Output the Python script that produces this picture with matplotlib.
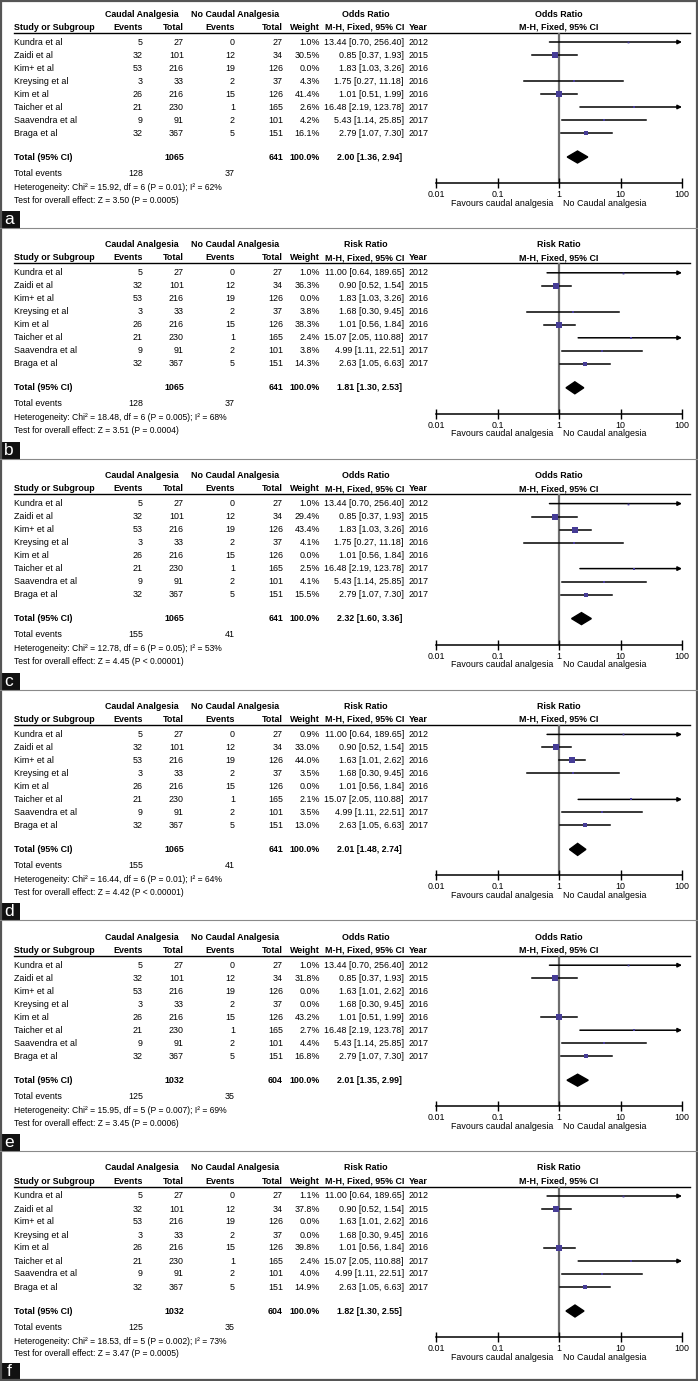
import matplotlib
matplotlib.use("Agg")
import matplotlib.pyplot as plt
from matplotlib.patches import Rectangle, Polygon
from matplotlib.ticker import NullLocator

plt.rcParams["font.family"] = ["Liberation Sans", "DejaVu Sans"]

W, H = 698, 1381

# shared study table
studies = ["Kundra et al", "Zaidi et al", "Kim+ et al", "Kreysing et al",
           "Kim et al", "Taicher et al", "Saavendra et al", "Braga et al"]
c_events = [5, 32, 53, 3, 26, 21, 9, 32]
c_total = [27, 101, 216, 33, 216, 230, 91, 367]
n_events = [0, 12, 19, 2, 15, 1, 2, 5]
n_total = [27, 34, 126, 37, 126, 165, 101, 151]
years = [2012, 2015, 2016, 2016, 2016, 2017, 2017, 2017]

# panel a - odds ratio
a_weight = [1.0, 30.5, 0.0, 4.3, 41.4, 2.6, 4.2, 16.1]
a_est = [13.44, 0.85, 1.83, 1.75, 1.01, 16.48, 5.43, 2.79]
a_lo = [0.70, 0.37, 1.03, 0.27, 0.51, 2.19, 1.14, 1.07]
a_hi = [256.40, 1.93, 3.26, 11.18, 1.99, 123.78, 25.85, 7.30]
a_total = [2.00, 1.36, 2.94]

# panel b - risk ratio
b_weight = [1.0, 36.3, 0.0, 3.8, 38.3, 2.4, 3.8, 14.3]
b_est = [11.00, 0.90, 1.83, 1.68, 1.01, 15.07, 4.99, 2.63]
b_lo = [0.64, 0.52, 1.03, 0.30, 0.56, 2.05, 1.11, 1.05]
b_hi = [189.65, 1.54, 3.26, 9.45, 1.84, 110.88, 22.51, 6.63]
b_total = [1.81, 1.30, 2.53]

# panel c - odds ratio
c_weight = [1.0, 29.4, 43.4, 4.1, 0.0, 2.5, 4.1, 15.5]
c_est = [13.44, 0.85, 1.83, 1.75, 1.01, 16.48, 5.43, 2.79]
c_lo = [0.70, 0.37, 1.03, 0.27, 0.56, 2.19, 1.14, 1.07]
c_hi = [256.40, 1.93, 3.26, 11.18, 1.84, 123.78, 25.85, 7.30]
c_tot = [2.32, 1.60, 3.36]

# panel d - risk ratio
d_weight = [0.9, 33.0, 44.0, 3.5, 0.0, 2.1, 3.5, 13.0]
d_est = [11.00, 0.90, 1.63, 1.68, 1.01, 15.07, 4.99, 2.63]
d_lo = [0.64, 0.52, 1.01, 0.30, 0.56, 2.05, 1.11, 1.05]
d_hi = [189.65, 1.54, 2.62, 9.45, 1.84, 110.88, 22.51, 6.63]
d_total = [2.01, 1.48, 2.74]

# panel e - odds ratio
e_weight = [1.0, 31.8, 0.0, 0.0, 43.2, 2.7, 4.4, 16.8]
e_est = [13.44, 0.85, 1.63, 1.68, 1.01, 16.48, 5.43, 2.79]
e_lo = [0.70, 0.37, 1.01, 0.30, 0.51, 2.19, 1.14, 1.07]
e_hi = [256.40, 1.93, 2.62, 9.45, 1.99, 123.78, 25.85, 7.30]
e_total = [2.01, 1.35, 2.99]

# panel f - risk ratio
f_weight = [1.1, 37.8, 0.0, 0.0, 39.8, 2.4, 4.0, 14.9]
f_est = [11.00, 0.90, 1.63, 1.68, 1.01, 15.07, 4.99, 2.63]
f_lo = [0.64, 0.52, 1.01, 0.30, 0.56, 2.05, 1.11, 1.05]
f_hi = [189.65, 1.54, 2.62, 9.45, 1.84, 110.88, 22.51, 6.63]
f_total = [1.82, 1.30, 2.55]

labels = ["a", "b", "c", "d", "e", "f"]
measures = ["Odds Ratio", "Risk Ratio", "Odds Ratio", "Risk Ratio", "Odds Ratio", "Risk Ratio"]
sum_c_total = [1065, 1065, 1065, 1065, 1032, 1032]
sum_n_total = [641, 641, 641, 641, 604, 604]
sum_c_events = [128, 128, 155, 155, 125, 125]
sum_n_events = [37, 37, 41, 41, 35, 35]
heterogeneity = [
    "Heterogeneity: Chi\u00b2 = 15.92, df = 6 (P = 0.01); I\u00b2 = 62%",
    "Heterogeneity: Chi\u00b2 = 18.48, df = 6 (P = 0.005); I\u00b2 = 68%",
    "Heterogeneity: Chi\u00b2 = 12.78, df = 6 (P = 0.05); I\u00b2 = 53%",
    "Heterogeneity: Chi\u00b2 = 16.44, df = 6 (P = 0.01); I\u00b2 = 64%",
    "Heterogeneity: Chi\u00b2 = 15.95, df = 5 (P = 0.007); I\u00b2 = 69%",
    "Heterogeneity: Chi\u00b2 = 18.53, df = 5 (P = 0.002); I\u00b2 = 73%",
]
overall = [
    "Test for overall effect: Z = 3.50 (P = 0.0005)",
    "Test for overall effect: Z = 3.51 (P = 0.0004)",
    "Test for overall effect: Z = 4.45 (P < 0.00001)",
    "Test for overall effect: Z = 4.42 (P < 0.00001)",
    "Test for overall effect: Z = 3.45 (P = 0.0006)",
    "Test for overall effect: Z = 3.47 (P = 0.0005)",
]

panels = [
    (a_weight, a_est, a_lo, a_hi, a_total),
    (b_weight, b_est, b_lo, b_hi, b_total),
    (c_weight, c_est, c_lo, c_hi, c_tot),
    (d_weight, d_est, d_lo, d_hi, d_total),
    (e_weight, e_est, e_lo, e_hi, e_total),
    (f_weight, f_est, f_lo, f_hi, f_total),
]

SQ = "#463C96"
FS = 6.4
PITCH = 230.8
ROW0, ROWH = 42, 13.0
Y_TOTAL, Y_AXIS, Y_HLINE = 157, 183, 32.5

fig = plt.figure(figsize=(W / 100, H / 100), dpi=100)
bg = fig.add_axes([0, 0, 1, 1])
bg.set_xlim(0, W)
bg.set_ylim(H, 0)
bg.axis("off")


def ci_text(e, l, h):
    return f"{e:.2f} [{l:.2f}, {h:.2f}]"


for k in range(6):
    T = k * PITCH
    weight, est, lo, hi, tot = panels[k]

    def t(x, y, s, size=FS, **kw):
        bg.text(x, T + y, s, fontsize=size, va="center", **kw)

    # headers
    t(142, 14, "Caudal Analgesia", ha="center", fontweight="bold")
    t(235, 14, "No Caudal Analgesia", ha="center", fontweight="bold")
    t(366, 14, measures[k], ha="center", fontweight="bold")
    t(559, 14, measures[k], ha="center", fontweight="bold")
    t(14, 27, "Study or Subgroup", ha="left", fontweight="bold")
    t(143, 27, "Events", ha="right", fontweight="bold")
    t(184, 27, "Total", ha="right", fontweight="bold")
    t(235, 27, "Events", ha="right", fontweight="bold")
    t(283, 27, "Total", ha="right", fontweight="bold")
    t(320, 27, "Weight", ha="right", fontweight="bold")
    t(404, 27, "M-H, Fixed, 95% CI", ha="right", fontweight="bold")
    t(409, 27, "Year", ha="left", fontweight="bold")
    t(559, 27, "M-H, Fixed, 95% CI", ha="center", fontweight="bold")
    bg.plot([14, 690], [T + Y_HLINE, T + Y_HLINE], color="black", lw=1.0)

    # study rows
    for i, name in enumerate(studies):
        y = ROW0 + i * ROWH
        t(14, y, name, ha="left")
        t(143, y, str(c_events[i]), ha="right")
        t(184, y, str(c_total[i]), ha="right")
        t(235, y, str(n_events[i]), ha="right")
        t(283, y, str(n_total[i]), ha="right")
        t(320, y, f"{weight[i]:.1f}%", ha="right")
        t(404, y, ci_text(est[i], lo[i], hi[i]), ha="right")
        t(409, y, str(years[i]), ha="left")

    # totals
    t(14, Y_TOTAL, "Total (95% CI)", ha="left", fontweight="bold")
    t(184, Y_TOTAL, str(sum_c_total[k]), ha="right", fontweight="bold")
    t(283, Y_TOTAL, str(sum_n_total[k]), ha="right", fontweight="bold")
    t(320, Y_TOTAL, "100.0%", ha="right", fontweight="bold")
    t(402, Y_TOTAL, ci_text(*tot), ha="right", fontweight="bold")
    t(14, 173, "Total events", ha="left")
    t(143, 173, str(sum_c_events[k]), ha="right")
    t(235, 173, str(sum_n_events[k]), ha="right")
    t(14, 187, heterogeneity[k], size=6.15, ha="left")
    t(14, 200, overall[k], size=6.15, ha="left")
    t(553, 203, "Favours caudal analgesia", ha="right")
    t(563, 203, "No Caudal analgesia", ha="left")

    # panel label
    box_bottom = min(T + 228, H - 1)
    bg.add_patch(Rectangle((0, box_bottom - 17), 20, 17, facecolor="#111111",
                           edgecolor="none"))
    bg.text(9, box_bottom - 8.5, labels[k], color="white", fontsize=12.5,
            ha="center", va="center")
    if k < 5:
        bg.plot([0, W], [box_bottom, box_bottom], color="#8a8a8a", lw=0.8)

    # forest plot
    ax = fig.add_axes([436 / W, 1 - (T + Y_AXIS) / H, 246 / W,
                       (Y_AXIS - Y_HLINE) / H])
    ax.set_xscale("log")
    ax.set_xlim(0.01, 100)
    ax.set_ylim(Y_AXIS, Y_HLINE)
    ax.patch.set_alpha(0)
    for side in ("top", "left", "right"):
        ax.spines[side].set_visible(False)
    ax.spines["bottom"].set_linewidth(1.1)
    ax.set_yticks([])
    ax.set_xticks([0.01, 0.1, 1, 10, 100])
    ax.set_xticklabels(["0.01", "0.1", "1", "10", "100"])
    ax.xaxis.set_minor_locator(NullLocator())
    ax.tick_params(axis="x", direction="inout", length=7, width=1.0,
                   pad=1.5, labelsize=FS)
    ax.axvline(1, color="#6e6e6e", lw=1.6, zorder=1)

    for i in range(len(studies)):
        if weight[i] <= 0:
            continue
        y = ROW0 + i * ROWH
        if hi[i] > 100:
            ax.annotate("", xy=(100, y), xytext=(lo[i], y),
                        arrowprops=dict(arrowstyle="-|>", color="black",
                                        lw=1.1, mutation_scale=6,
                                        shrinkA=0, shrinkB=0), zorder=2)
        else:
            ax.plot([lo[i], hi[i]], [y, y], color="black", lw=1.1, zorder=2)
        side_px = 1 + 0.8 * weight[i] ** 0.5
        ax.plot(est[i], y, marker="s", color=SQ, markersize=side_px * 0.72,
                markeredgewidth=0, zorder=3)

    e0, l0, h0 = tot
    ax.add_patch(Polygon([(l0, Y_TOTAL), (e0, Y_TOTAL - 6), (h0, Y_TOTAL),
                          (e0, Y_TOTAL + 6)], closed=True, facecolor="black",
                         edgecolor="black", zorder=3))

bg.add_patch(Rectangle((0.8, 0.8), W - 1.6, H - 1.6, facecolor="none",
                       edgecolor="#555555", lw=1.6))

plt.savefig("out.png", dpi=100)
